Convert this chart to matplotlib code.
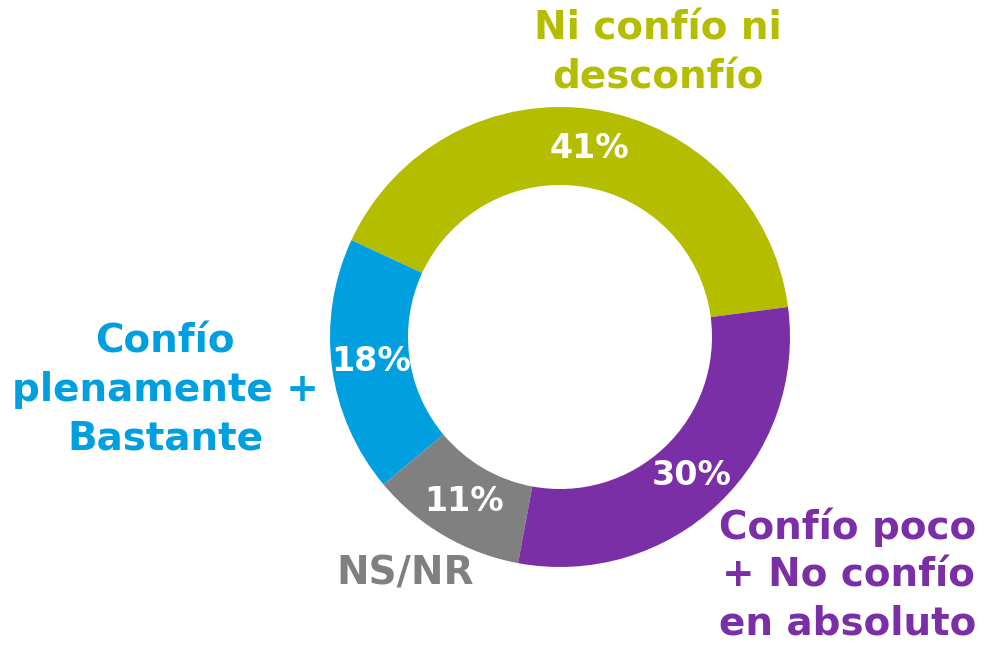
import matplotlib.pyplot as plt

# datos de la encuesta
categorias = ['Ni confío ni\ndesconfío', 'Confío\nplenamente +\nBastante', 'NS/NR',
              'Confío poco\n+ No confío\nen absoluto']
valores = [41, 18, 11, 30]
colores = ['#B5BD00', '#009FDF', '#808080', '#7B2FA6']

# posición de las etiquetas (en px de la imagen)
pos_etiquetas = [(658, 53), (165, 390), (405, 573), (848, 575)]

W, H = 986, 646


def main():
    fig = plt.figure(figsize=(W / 100, H / 100), dpi=100)
    ax = fig.add_axes([0, 0, 1, 1])
    ax.set_xlim(0, W)
    ax.set_ylim(0, H)
    ax.set_aspect('equal')
    ax.axis('off')

    wedges, texts, autotexts = ax.pie(
        valores, colors=colores, startangle=7.5, counterclock=True,
        center=(560, H - 337), radius=230,
        wedgeprops=dict(width=78, edgecolor='none'),
        autopct='%d%%', pctdistance=0.83,
        textprops=dict(color='white', fontsize=24, fontweight='bold'))
    ax.set_xlim(0, W)
    ax.set_ylim(0, H)

    for cat, col, (x, y) in zip(categorias, colores, pos_etiquetas):
        ax.text(x, H - y, cat, color=col, fontsize=28, fontweight='bold',
                ha='center', va='center', linespacing=1.34)

    fig.savefig('out.png', dpi=100)


if __name__ == '__main__':
    main()
